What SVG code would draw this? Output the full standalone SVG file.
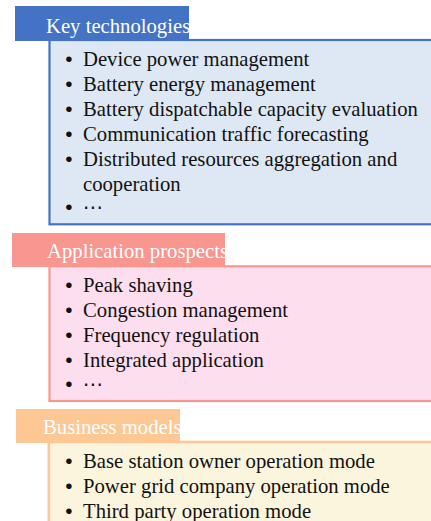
<svg xmlns="http://www.w3.org/2000/svg" width="431" height="521" viewBox="0 0 431 521">
<style>
text{font-family:"Liberation Serif","Times New Roman",serif;font-size:20.7px}
.hd{fill:#ffffff}
.it{fill:#111111}
.bl{fill:#111111;font-family:"Liberation Sans",Arial,sans-serif}
.el{fill:#111111;font-family:"DejaVu Sans",sans-serif;font-size:20px}
.b1{fill:#DEE8F5;stroke:#4472C4;stroke-width:2.2}
.h1{fill:#4472C4}
.b2{fill:#FDDEEE;stroke:#F8978F;stroke-width:2.2}
.h2{fill:#F9968F}
.b3{fill:#FCF5DE;stroke:#FCC996;stroke-width:2.6}
.h3{fill:#FDC894}
</style>
<defs>
<clipPath id="c1"><rect x="15" y="6" width="174" height="35"/></clipPath>
<clipPath id="c2"><rect x="12" y="233" width="213" height="34"/></clipPath>
<clipPath id="c3"><rect x="16" y="409" width="164" height="34"/></clipPath>
</defs>
<g id="connectors"></g>
<g id="key-technologies">
<rect class="b1" x="49.5" y="40" width="400" height="184.3"/>
<rect class="h1" x="15" y="6" width="174" height="35"/>
<text class="hd" x="46" y="32.5" clip-path="url(#c1)">Key technologies</text>
<text class="bl" x="65.3" y="65.7">•</text><text class="it" x="83" y="65.7">Device power management</text>
<text class="bl" x="65.3" y="90.7">•</text><text class="it" x="83" y="90.7">Battery energy management</text>
<text class="bl" x="65.3" y="115.7">•</text><text class="it" x="83" y="115.7">Battery dispatchable capacity evaluation</text>
<text class="bl" x="65.3" y="140.7">•</text><text class="it" x="83" y="140.7">Communication traffic forecasting</text>
<text class="bl" x="65.3" y="165.7">•</text><text class="it" x="83" y="165.7">Distributed resources aggregation and</text>
<text class="it" x="83" y="190.7">cooperation</text>
<text class="bl" x="65.3" y="214">•</text><text class="el" x="83" y="214">⋯</text>
</g>
<g id="application-prospects">
<rect class="b2" x="49.5" y="266.3" width="400" height="134.7"/>
<rect class="h2" x="12" y="233" width="213" height="34"/>
<text class="hd" x="47" y="258.3" clip-path="url(#c2)">Application prospects</text>
<text class="bl" x="65.3" y="291.7">•</text><text class="it" x="83" y="291.7">Peak shaving</text>
<text class="bl" x="65.3" y="316.7">•</text><text class="it" x="83" y="316.7">Congestion management</text>
<text class="bl" x="65.3" y="341.7">•</text><text class="it" x="83" y="341.7">Frequency regulation</text>
<text class="bl" x="65.3" y="366.7">•</text><text class="it" x="83" y="366.7">Integrated application</text>
<text class="bl" x="65.3" y="390.7">•</text><text class="el" x="83" y="390.7">⋯</text>
</g>
<g id="business-models">
<rect class="b3" x="48.8" y="442" width="400" height="100"/>
<rect class="h3" x="16" y="409" width="164" height="34"/>
<text class="hd" x="43" y="434.3" clip-path="url(#c3)">Business models</text>
<text class="bl" x="65.3" y="468.3">•</text><text class="it" x="83" y="468.3">Base station owner operation mode</text>
<text class="bl" x="65.3" y="493.3">•</text><text class="it" x="83" y="493.3">Power grid company operation mode</text>
<text class="bl" x="65.3" y="518.3">•</text><text class="it" x="83" y="518.3">Third party operation mode</text>
</g>
</svg>
